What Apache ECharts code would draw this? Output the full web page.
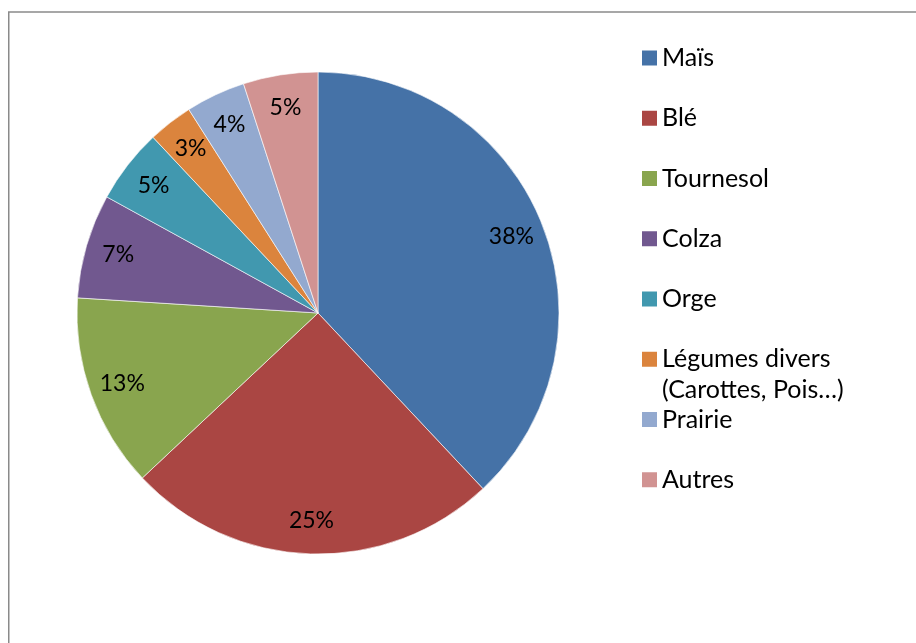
<!DOCTYPE html>
<html>
<head>
<meta charset="utf-8">
<script src="https://cdn.jsdelivr.net/npm/echarts@6/dist/echarts.min.js"></script>
<style>
  html, body { margin: 0; padding: 0; background: #ffffff; }
  #chart { width: 916px; height: 643px; }
</style>
</head>
<body>
<div id="chart"></div>
<script>
// Crop shares (percent of the farmed area)
const categories = ['Maïs', 'Blé', 'Tournesol', 'Colza', 'Orge', 'Légumes divers (Carottes, Pois…)', 'Prairie', 'Autres'];
const shares = [38, 25, 13, 7, 5, 3, 4, 5];
const sliceColors = ['#4572A7', '#AA4643', '#89A54E', '#71588F', '#4198AF', '#DB843D', '#93A9CF', '#D19392'];

const FONT = 'Lato, "Liberation Sans", sans-serif';
const CENTER = [318, 313];
const RADIUS = 241;

// Legend rows: one every ~60 px; long names wrap below their first line
const LEGEND_LEFT = 642;
const LEGEND_TOP = 42.5;
const ROW_PITCH = 60.25;
const LINE_H = 31;

const pieData = categories.map((name, i) => ({
  name: name,
  value: shares[i],
  itemStyle: { color: sliceColors[i] }
}));

// Same slices again, invisible, on a ring whose middle sits near the rim:
// it only carries the percentage labels.
const labelData = categories.map((name, i) => ({ name: name, value: shares[i] }));

const wrapName = name => name.replace(' (', '\n(');
const extraLines = name => wrapName(name).split('\n').length - 1;

// Legend text is centred on its swatch, so a wrapped name gets as many empty
// lines above it as it has below, which keeps its first line beside the swatch.
function legendLabel(name) {
  return '\n'.repeat(extraLines(name)) + wrapName(name);
}

function legendBlock(names, firstRow) {
  const lift = extraLines(names[0]) * LINE_H;
  return {
    orient: 'vertical',
    left: LEGEND_LEFT,
    top: LEGEND_TOP + firstRow * ROW_PITCH - lift,
    padding: 0,
    itemGap: ROW_PITCH - LINE_H,
    itemWidth: 15,
    itemHeight: 15,
    icon: 'rect',
    selectedMode: false,
    data: names,
    itemStyle: { borderWidth: 0 },
    formatter: legendLabel,
    textStyle: {
      fontFamily: FONT,
      fontSize: 25,
      color: '#000000',
      lineHeight: LINE_H
    }
  };
}

// Single-line names share a block; a wrapped name gets a block of its own
const legendBlocks = [];
let run = [];
let runStart = 0;
categories.forEach((name, i) => {
  if (extraLines(name)) {
    if (run.length) legendBlocks.push(legendBlock(run, runStart));
    legendBlocks.push(legendBlock([name], i));
    run = [];
    runStart = i + 1;
  } else {
    run.push(name);
  }
});
if (run.length) legendBlocks.push(legendBlock(run, runStart));

const chart = echarts.init(document.getElementById('chart'), null, { renderer: 'canvas' });

chart.setOption({
  animation: false,
  backgroundColor: '#ffffff',
  graphic: [{
    type: 'rect',
    shape: { x: 8.75, y: 12, width: 1000, height: 1000 },
    style: { fill: 'none', stroke: '#8a8a8a', lineWidth: 1.5 },
    silent: true,
    z: 0
  }],
  legend: legendBlocks,
  series: [
    {
      name: 'Cultures',
      type: 'pie',
      center: CENTER,
      radius: [0, RADIUS],
      startAngle: 90,
      clockwise: true,
      silent: true,
      data: pieData,
      itemStyle: { borderColor: '#ffffff', borderWidth: 0.6 },
      label: { show: false },
      labelLine: { show: false }
    },
    {
      name: 'Étiquettes',
      type: 'pie',
      center: CENTER,
      radius: [169, RADIUS],
      startAngle: 90,
      clockwise: true,
      silent: true,
      legendHoverLink: false,
      avoidLabelOverlap: false,
      data: labelData,
      itemStyle: { color: 'rgba(0,0,0,0)', borderWidth: 0 },
      label: {
        show: true,
        position: 'inside',
        formatter: p => p.value + '%',
        color: '#000000',
        fontFamily: FONT,
        fontSize: 23,
        textBorderWidth: 0
      },
      labelLine: { show: false }
    }
  ]
});
</script>
</body>
</html>
